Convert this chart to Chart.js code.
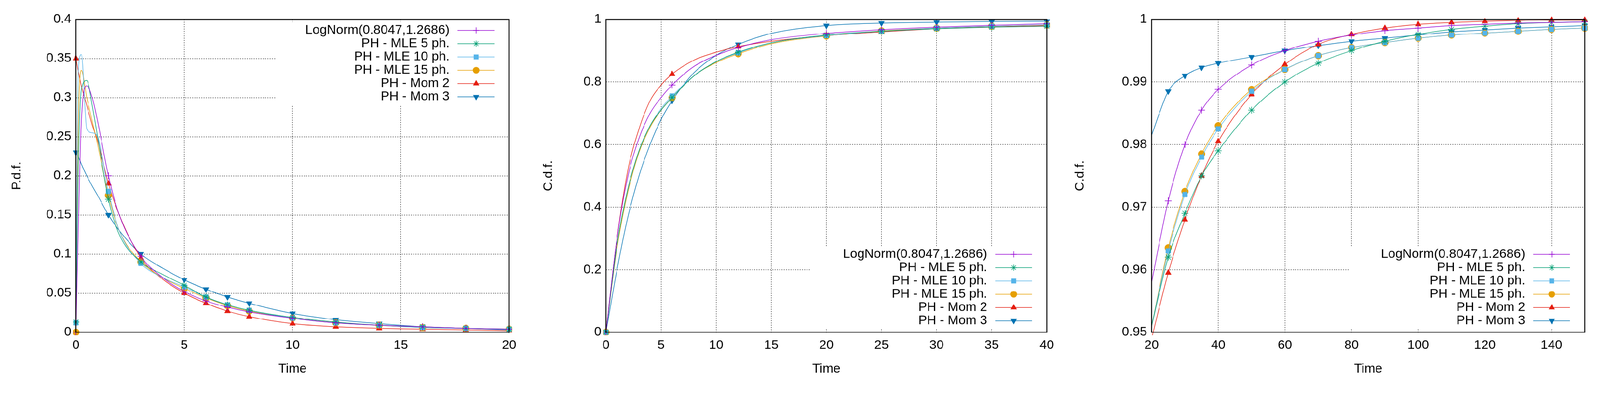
<!DOCTYPE html>
<html>
<head>
<meta charset="utf-8">
<script src="https://cdn.jsdelivr.net/npm/chart.js@4.4.1/dist/chart.umd.min.js"></script>
<style>
  html, body { margin: 0; background: #fff; overflow: hidden; }
  #wrap { position: absolute; left: 0; top: 0; width: 4214px; height: 1006px; transform-origin: 0 0; }
  canvas { position: absolute; top: 0; }
</style>
</head>
<body>
<div id="wrap">
<canvas id="c1" style="left:0;width:1400px;height:1006px"></canvas>
<canvas id="c2" style="left:1400px;width:1400px;height:1006px"></canvas>
<canvas id="c3" style="left:2800px;width:1414px;height:1006px"></canvas>
</div>
<script>
// series names and styles (gnuplot default palette)
const seriesNames = ['LogNorm(0.8047,1.2686)', 'PH - MLE 5 ph.', 'PH - MLE 10 ph.', 'PH - MLE 15 ph.', 'PH - Mom 2', 'PH - Mom 3'];
const seriesColors = ['#9400d3', '#009e73', '#56b4e9', '#e69f00', '#e51e10', '#0072b2'];
const seriesMarkers = ['cross', 'star', 'rect', 'circle', 'triangle', 'triangle'];
const seriesRot = [0, 0, 0, 0, 0, 180];

// panel 1: p.d.f., time 0..20
const pdfTime = [0, 0.1, 0.25, 0.5, 0.75, 1, 1.5, 2, 3, 4, 5, 6, 7, 8, 10, 12, 14, 16, 18, 20];
const pdfLogNorm = [0, 0.12, 0.27, 0.315, 0.30, 0.27, 0.20, 0.15, 0.097, 0.07, 0.052, 0.04, 0.032, 0.026, 0.018, 0.012, 0.009, 0.007, 0.005, 0.004];
const pdfMle5 = [0.013, 0.2, 0.31, 0.322, 0.29, 0.25, 0.17, 0.125, 0.09, 0.074, 0.06, 0.045, 0.035, 0.028, 0.019, 0.013, 0.009, 0.007, 0.005, 0.004];
const pdfMle10 = [0.012, 0.33, 0.355, 0.26, 0.255, 0.25, 0.18, 0.13, 0.088, 0.07, 0.058, 0.045, 0.035, 0.028, 0.018, 0.012, 0.009, 0.006, 0.005, 0.004];
const pdfMle15 = [0, 0.25, 0.335, 0.30, 0.27, 0.24, 0.175, 0.13, 0.09, 0.07, 0.056, 0.044, 0.034, 0.027, 0.018, 0.012, 0.009, 0.006, 0.005, 0.004];
const pdfMom2 = [0.35, 0.335, 0.315, 0.29, 0.265, 0.245, 0.19, 0.15, 0.095, 0.068, 0.05, 0.037, 0.027, 0.02, 0.011, 0.007, 0.005, 0.004, 0.003, 0.002];
const pdfMom3 = [0.23, 0.225, 0.215, 0.2, 0.187, 0.175, 0.15, 0.13, 0.1, 0.082, 0.067, 0.055, 0.045, 0.037, 0.024, 0.016, 0.011, 0.007, 0.005, 0.003];
const pdfMarkIdx = [0, 6, 8, 10, 11, 12, 13, 14, 15, 16, 17, 18, 19];

// panel 2: c.d.f., time 0..40
const cdfTime = [0, 1, 2, 3, 4, 5, 6, 8, 10, 12, 15, 20, 25, 30, 35, 40];
const cdfLogNorm = [0, 0.3, 0.5, 0.62, 0.7, 0.75, 0.79, 0.85, 0.885, 0.91, 0.935, 0.955, 0.967, 0.975, 0.981, 0.986];
const cdfMle5 = [0, 0.28, 0.46, 0.58, 0.66, 0.71, 0.75, 0.82, 0.865, 0.895, 0.925, 0.95, 0.962, 0.97, 0.975, 0.978];
const cdfMle10 = [0, 0.28, 0.46, 0.58, 0.66, 0.715, 0.755, 0.82, 0.865, 0.893, 0.925, 0.948, 0.962, 0.972, 0.978, 0.982];
const cdfMle15 = [0, 0.27, 0.45, 0.575, 0.655, 0.71, 0.75, 0.82, 0.862, 0.89, 0.922, 0.947, 0.963, 0.972, 0.978, 0.982];
const cdfMom2 = [0, 0.3, 0.52, 0.65, 0.74, 0.79, 0.825, 0.87, 0.895, 0.913, 0.93, 0.948, 0.96, 0.97, 0.976, 0.98];
const cdfMom3 = [0, 0.2, 0.37, 0.5, 0.6, 0.68, 0.74, 0.83, 0.885, 0.92, 0.955, 0.98, 0.988, 0.991, 0.993, 0.994];
const cdfMarkIdx = [0, 6, 9, 11, 12, 13, 14, 15];

// panel 3: c.d.f. tail, time 20..150
const tailTime = [20, 25, 30, 35, 40, 50, 60, 70, 80, 90, 100, 110, 120, 130, 140, 150];
const tailLogNorm = [0.958, 0.971, 0.980, 0.9855, 0.9888, 0.9927, 0.995, 0.9965, 0.9975, 0.9982, 0.9986, 0.999, 0.9992, 0.9994, 0.9995, 0.9996];
const tailMle5 = [0.951, 0.962, 0.969, 0.975, 0.979, 0.9855, 0.990, 0.993, 0.995, 0.9965, 0.9976, 0.9984, 0.9989, 0.9993, 0.9995, 0.9996];
const tailMle10 = [0.951, 0.963, 0.972, 0.978, 0.9825, 0.9885, 0.992, 0.9942, 0.9955, 0.9963, 0.997, 0.9975, 0.9978, 0.9981, 0.9984, 0.9986];
const tailMle15 = [0.951, 0.9635, 0.9725, 0.9785, 0.983, 0.9888, 0.992, 0.9942, 0.9955, 0.9963, 0.997, 0.9975, 0.9978, 0.9981, 0.9984, 0.9986];
const tailMom2 = [0.949, 0.9595, 0.968, 0.975, 0.9805, 0.988, 0.9928, 0.996, 0.9976, 0.9986, 0.9992, 0.9995, 0.9997, 0.9998, 0.9999, 0.9999];
const tailMom3 = [0.9815, 0.9885, 0.991, 0.9923, 0.993, 0.994, 0.995, 0.9958, 0.9965, 0.997, 0.9975, 0.998, 0.9983, 0.9986, 0.9988, 0.999];
const tailMarkIdx = [1, 2, 3, 4, 5, 6, 7, 8, 9, 10, 11, 12, 13, 14, 15];
const tailTickLabels = [20, 40, 60, 80, 100, 120, 140];

const FONT = 'Liberation Sans';
const FSIZE = 34;

// the window can be a little narrower than 4214 css px: scale the whole page to fit
document.getElementById('wrap').style.transform = 'scale(' + (window.innerWidth / 4214) + ')';

function makeSets(xs, ys, marks) {
  return ys.map((vals, i) => ({
    label: seriesNames[i],
    data: xs.map((x, j) => ({ x: x, y: vals[j] })),
    borderColor: seriesColors[i],
    backgroundColor: seriesColors[i],
    borderWidth: 1.5,
    cubicInterpolationMode: 'monotone',
    pointStyle: seriesMarkers[i],
    rotation: seriesRot[i],
    pointRadius: ctx => marks.includes(ctx.dataIndex) ? 9 : 0,
    pointBorderWidth: seriesMarkers[i] === 'cross' || seriesMarkers[i] === 'star' ? 1.5 : 1,
    clip: 8
  }));
}

// white-backed gnuplot style legend plus the frame
const gnuLegend = {
  id: 'gnuLegend',
  afterDatasetsDraw(chart, args, opts) {
    const ctx = chart.ctx, a = chart.chartArea;
    ctx.save();
    ctx.fillStyle = '#fff';
    ctx.fillRect(opts.boxLeft, opts.top - 22, a.right - opts.boxLeft - 1, 6 * 35 + 8);
    ctx.font = FSIZE + 'px ' + FONT;
    ctx.textAlign = 'right';
    ctx.textBaseline = 'middle';
    seriesNames.forEach((name, i) => {
      const y = opts.top + i * 35;
      ctx.fillStyle = '#000';
      ctx.fillText(name, opts.textRight, y);
      ctx.strokeStyle = seriesColors[i];
      ctx.lineWidth = 1.5;
      ctx.beginPath();
      ctx.moveTo(opts.textRight + 21, y);
      ctx.lineTo(opts.textRight + 118, y);
      ctx.stroke();
      ctx.fillStyle = seriesColors[i];
      Chart.helpers.drawPoint(ctx, { pointStyle: seriesMarkers[i], radius: 8, rotation: seriesRot[i], borderWidth: 1.5 }, opts.textRight + 70, y);
    });
    ctx.strokeStyle = '#000';
    ctx.lineWidth = 2.5;
    ctx.strokeRect(a.left, a.top, a.right - a.left, a.bottom - a.top);
    ctx.restore();
  }
};

function makeChart(id, xs, ys, marks, cfg) {
  new Chart(document.getElementById(id), {
    type: 'line',
    data: { datasets: makeSets(xs, ys, marks) },
    plugins: [gnuLegend],
    options: {
      responsive: false,
      animation: false,
      layout: { padding: { left: 20, top: 51, right: cfg.right, bottom: 10 } },
      plugins: {
        legend: { display: false },
        tooltip: { enabled: false },
        gnuLegend: cfg.legend
      },
      scales: {
        x: {
          type: 'linear', min: cfg.xmin, max: cfg.xmax,
          ticks: { stepSize: cfg.xstep, color: '#000', font: { family: FONT, size: FSIZE }, maxRotation: 0, padding: 14, autoSkip: false },
          afterBuildTicks: s => { if (cfg.xlabels) s.ticks = cfg.xlabels.map(v => ({ value: v })); },
          grid: { color: '#000', lineWidth: 1, tickLength: 0 },
          border: { display: false, dash: [3, 3] },
          title: { display: true, text: 'Time', color: '#000', font: { family: FONT, size: FSIZE }, padding: { top: 28 } },
          afterFit: s => { s.height = 1006 - 875 - 10; }
        },
        y: {
          min: cfg.ymin, max: cfg.ymax,
          ticks: { stepSize: cfg.ystep, color: '#000', font: { family: FONT, size: FSIZE }, padding: 12, callback: v => +v.toFixed(3) + '' },
          grid: { color: '#000', lineWidth: 1, tickLength: 0 },
          border: { display: false, dash: [3, 3] },
          title: { display: true, text: cfg.ytitle, color: '#000', font: { family: FONT, size: FSIZE } },
          afterFit: s => { s.width = cfg.left - 20; }
        }
      }
    }
  });
}

makeChart('c1', pdfTime, [pdfLogNorm, pdfMle5, pdfMle10, pdfMle15, pdfMom2, pdfMom3], pdfMarkIdx,
  { xmin: 0, xmax: 20, xstep: 5, ymin: 0, ymax: 0.4, ystep: 0.05, ytitle: 'P.d.f.', left: 200, right: 59,
    legend: { top: 80, textRight: 1184, boxLeft: 725 } });
makeChart('c2', cdfTime, [cdfLogNorm, cdfMle5, cdfMle10, cdfMle15, cdfMom2, cdfMom3], cdfMarkIdx,
  { xmin: 0, xmax: 40, xstep: 5, ymin: 0, ymax: 1, ystep: 0.2, ytitle: 'C.d.f.', left: 196, right: 43,
    legend: { top: 670, textRight: 1200, boxLeft: 735 } });
makeChart('c3', tailTime, [tailLogNorm, tailMle5, tailMle10, tailMle15, tailMom2, tailMom3], tailMarkIdx,
  { xmin: 20, xmax: 150, xstep: 20, ymin: 0.95, ymax: 1, ystep: 0.01, ytitle: 'C.d.f.', left: 233, right: 40,
    xlabels: tailTickLabels, legend: { top: 670, textRight: 1217, boxLeft: 755 } });
</script>
</body>
</html>
